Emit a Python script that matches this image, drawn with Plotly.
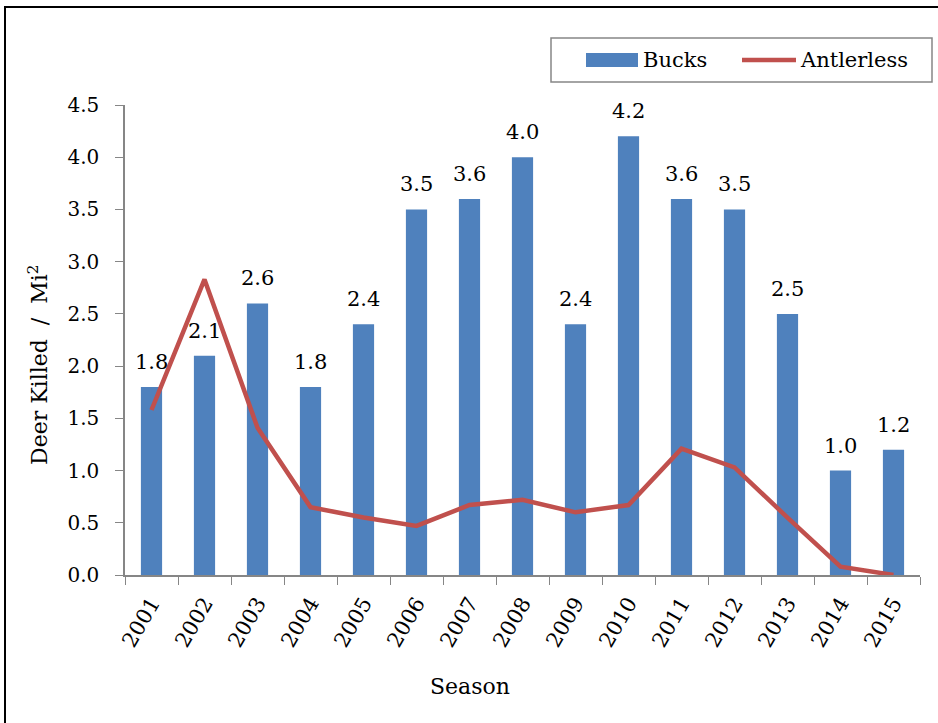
import plotly.graph_objects as go

seasons = ["2001", "2002", "2003", "2004", "2005", "2006", "2007", "2008",
           "2009", "2010", "2011", "2012", "2013", "2014", "2015"]
bucks = [1.8, 2.1, 2.6, 1.8, 2.4, 3.5, 3.6, 4.0, 2.4, 4.2, 3.6, 3.5, 2.5, 1.0, 1.2]
antlerless = [1.58, 2.83, 1.41, 0.65, 0.55, 0.47, 0.67, 0.72, 0.60, 0.67,
              1.21, 1.03, 0.55, 0.08, 0.0]

FONT = "DejaVu Serif"
AXIS_GREY = "#868686"
BAR_BLUE = "#4F81BD"
LINE_RED = "#C0504D"

# plot area in pixels
L, R, T, B = 125, 920, 105, 575
W, H = R - L, B - T


def px(x):
    return (x - L) / W


def py(y):
    return (B - y) / H


fig = go.Figure()
fig.add_trace(go.Bar(
    x=seasons, y=bucks, name="Bucks",
    marker=dict(color=BAR_BLUE, line=dict(width=0)),
))
fig.add_trace(go.Scatter(
    x=seasons, y=antlerless, name="Antlerless", mode="lines",
    line=dict(color=LINE_RED, width=4.5),
))

# value labels above each bar (x given as category index)
for i, v in enumerate(bucks):
    fig.add_annotation(x=i, y=v, text=f"{v:.1f}", showarrow=False,
                       yanchor="bottom", yshift=11,
                       font=dict(family=FONT, size=21, color="black"))

# axis titles
fig.add_annotation(xref="paper", yref="paper", x=px(470), y=py(686),
                   text="Season", showarrow=False, xanchor="center", yanchor="middle",
                   font=dict(family=FONT, size=22, color="black"))
fig.add_annotation(xref="paper", yref="paper", x=px(38), y=py(365),
                   text="Deer Killed  /  Mi<sup>2</sup>", showarrow=False, textangle=-90,
                   xanchor="center", yanchor="middle",
                   font=dict(family=FONT, size=22, color="black"))

# legend box with swatches
fig.add_shape(type="rect", xref="paper", yref="paper",
              x0=px(551), x1=px(932), y0=py(82), y1=py(38),
              line=dict(color=AXIS_GREY, width=1.5), fillcolor="white")
fig.add_shape(type="rect", xref="paper", yref="paper",
              x0=px(586), x1=px(638), y0=py(67), y1=py(53),
              line=dict(width=0), fillcolor=BAR_BLUE)
fig.add_shape(type="line", xref="paper", yref="paper",
              x0=px(742), x1=px(796), y0=py(60), y1=py(60),
              line=dict(color=LINE_RED, width=4.5))
fig.add_annotation(xref="paper", yref="paper", x=px(641), y=py(60),
                   text="Bucks", showarrow=False, xanchor="left", yanchor="middle",
                   font=dict(family=FONT, size=21, color="black"))
fig.add_annotation(xref="paper", yref="paper", x=px(798), y=py(60),
                   text="Antlerless", showarrow=False, xanchor="left", yanchor="middle",
                   font=dict(family=FONT, size=21, color="black"))

# outer frame around the whole chart
fig.add_shape(type="rect", xref="paper", yref="paper",
              x0=px(5), x1=px(960), y0=py(760), y1=py(7),
              line=dict(color="black", width=2), fillcolor="rgba(0,0,0,0)")

fig.update_layout(
    width=938, height=723,
    margin=dict(l=L, r=938 - R, t=T, b=723 - B),
    paper_bgcolor="white", plot_bgcolor="white",
    bargap=0.6,
    showlegend=False,
    font=dict(family=FONT, size=20, color="black"),
)
fig.update_xaxes(
    type="category", range=[-0.5, len(seasons) - 0.5], autorange=False,
    showline=True, linecolor=AXIS_GREY, linewidth=1.5,
    ticks="outside", tickson="boundaries", ticklen=8, tickcolor=AXIS_GREY,
    tickangle=-60, ticklabelstandoff=6,
    tickfont=dict(family=FONT, size=21, color="black"),
    showgrid=False, zeroline=False,
)
fig.update_yaxes(
    range=[0, 4.5], autorange=False, dtick=0.5, tickformat=".1f",
    showline=True, linecolor=AXIS_GREY, linewidth=1.5,
    ticks="outside", ticklen=8, tickcolor=AXIS_GREY,
    ticklabelstandoff=12,
    tickfont=dict(family=FONT, size=20, color="black"),
    showgrid=False, zeroline=False,
)

fig.write_html("out.html")
